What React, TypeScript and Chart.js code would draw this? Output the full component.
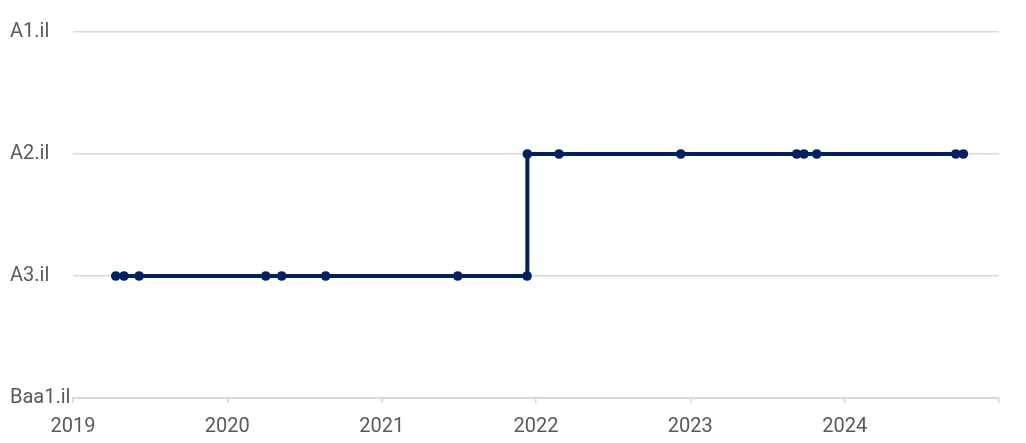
import React, { useEffect, useRef } from "react";
import { Chart, registerables } from "chart.js";

Chart.register(...registerables);

const ratingLabels = ["Baa1.il", "A3.il", "A2.il", "A1.il"];
const yearTicks = [2019, 2020, 2021, 2022, 2023, 2024];
const ratingDates = [
  2019.277, 2019.33, 2019.428, 2020.249, 2020.352, 2020.637, 2021.493, 2021.942,
  2021.944, 2022.149, 2022.938, 2023.689, 2023.736, 2023.819, 2024.72, 2024.769,
];
const ratingValues = [1, 1, 1, 1, 1, 1, 1, 1, 2, 2, 2, 2, 2, 2, 2, 2];

const FONT = "'Liberation Sans Narrow', 'Roboto', sans-serif";

export default function App() {
  const ref = useRef<HTMLCanvasElement | null>(null);
  useEffect(() => {
    if (!ref.current) return;
    const chart = new Chart(ref.current, {
      type: "scatter",
      data: {
        datasets: [
          {
            data: ratingDates.map((d, i) => ({ x: d, y: ratingValues[i] })),
            showLine: true,
            borderColor: "#002060",
            backgroundColor: "#002060",
            borderWidth: 4,
            pointRadius: 4.8,
            pointHoverRadius: 4.8,
            pointBorderWidth: 0,
            tension: 0,
          },
        ],
      },
      options: {
        animation: false,
        responsive: false,
        maintainAspectRatio: false,
        layout: { padding: { left: 10, top: 32, right: 27, bottom: 0 } },
        plugins: { legend: { display: false }, tooltip: { enabled: false } },
        scales: {
          x: {
            type: "linear",
            min: 2019,
            max: 2025,
            afterBuildTicks: (s: any) => {
              s.ticks = [...yearTicks, 2025].map((v) => ({ value: v }));
            },
            afterFit: (s: any) => {
              s.height = 45;
            },
            ticks: {
              autoSkip: false,
              maxRotation: 0,
              padding: 12,
              color: "#595959",
              font: { family: FONT, size: 20 },
              callback: (v: any) => (yearTicks.includes(Number(v)) ? String(v) : ""),
            },
            grid: {
              drawOnChartArea: false,
              drawTicks: true,
              tickLength: 5,
              color: "#d9d9d9",
              lineWidth: 1.5,
            },
            border: { display: true, color: "#d9d9d9", width: 2 },
          },
          y: {
            type: "linear",
            min: 0,
            max: 3,
            afterFit: (s: any) => {
              s.width = 63;
            },
            ticks: {
              stepSize: 1,
              crossAlign: "far",
              padding: 0,
              color: "#595959",
              font: { family: FONT, size: 20 },
              callback: (v: any) => ratingLabels[Number(v)] ?? "",
            },
            grid: {
              drawTicks: false,
              color: "#d9d9d9",
              lineWidth: 1.5,
            },
            border: { display: false },
          },
        },
      },
    });
    return () => chart.destroy();
  }, []);
  return (
    <div style={{ position: "absolute", left: 0, top: 0, width: 1026, height: 443, background: "#fff" }}>
      <canvas ref={ref} width={1026} height={443} />
    </div>
  );
}
